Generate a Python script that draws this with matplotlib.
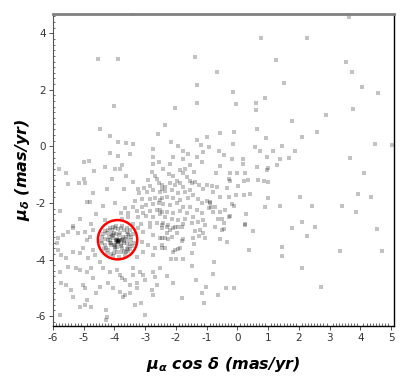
import numpy as np
import matplotlib as mpl
import matplotlib.pyplot as plt
from matplotlib.patches import Ellipse
from matplotlib.ticker import MultipleLocator

plt.switch_backend('Agg')

mpl.rcParams['axes.unicode_minus'] = False
mpl.rcParams['mathtext.fontset'] = 'custom'
mpl.rcParams['mathtext.it'] = 'DejaVu Sans:italic:bold'
mpl.rcParams['mathtext.rm'] = 'DejaVu Sans:bold'

# proper motions (mas/yr)
# sparse stars above the main field
upper_pts = [(-3.39, 4.68), (-4.52, 3.08), (-3.87, 3.08), (-1.38, 3.15), (-0.66, 2.64),
             (-1.30, 2.18), (-1.30, 1.52), (-4.01, 1.43), (-2.03, 1.35), (-2.35, 0.75),
             (-4.46, 0.60), (-0.16, 1.91), (-0.05, 1.49), (0.76, 3.82), (2.26, 3.82),
             (1.26, 3.06), (3.62, 4.58), (3.52, 2.97), (3.73, 2.64), (1.52, 2.24),
             (0.91, 1.72), (0.62, 1.52), (0.62, 1.29), (1.78, 0.89), (2.87, 1.10),
             (4.05, 2.09), (4.59, 1.90), (3.75, 1.31), (0.65, 0.60), (-2.60, 0.43)]

# sparse stars on the right
right_pts = [(2.59, 0.52), (2.10, 0.32), (1.16, -0.15), (1.45, 0.02), (1.88, -0.15),
             (1.68, -0.40), (1.39, -0.46), (3.65, -0.42), (1.30, -0.65), (4.46, 0.08),
             (5.03, 0.05), (4.11, -0.93), (4.36, -1.78), (3.91, -1.68), (2.04, -1.80),
             (3.87, -2.32), (2.43, -2.11), (3.40, -2.11), (1.39, -2.10), (2.10, -2.66),
             (1.79, -2.87), (2.26, -3.18), (2.54, -2.84), (4.54, -2.91), (4.69, -3.69),
             (3.34, -3.70), (1.45, -3.57), (1.45, -3.88), (2.10, -4.30), (2.73, -4.96),
             (0.94, 0.28), (1.01, -0.75)]

# field stars, upper left
field_ul = [(-4.13, 0.38), (-3.90, 0.14), (-3.61, 0.13), (-3.41, 0.08), (-2.76, -0.09),
            (-4.13, -0.22), (-3.90, -0.33), (-3.48, -0.27), (-2.74, -0.39), (-4.98, -0.56),
            (-4.84, -0.53), (-4.32, -0.74), (-3.74, -0.65), (-2.74, -0.63), (-2.55, -0.56),
            (-5.82, -0.80), (-5.57, -0.93), (-4.65, -0.86), (-3.99, -0.80), (-3.83, -0.80),
            (-2.78, -0.89), (-3.63, -1.04), (-4.99, -1.15), (-4.08, -1.15), (-2.67, -1.05),
            (-2.91, -1.19), (-2.63, -1.15), (-5.51, -1.33), (-5.16, -1.31), (-4.96, -1.28),
            (-3.39, -1.27), (-2.54, -1.31), (-4.23, -1.51), (-3.70, -1.52), (-3.25, -1.52),
            (-3.03, -1.48), (-2.85, -1.40), (-2.74, -1.55), (-4.70, -1.64), (-3.20, -1.66),
            (-2.93, -1.60), (-2.47, -1.52), (-4.89, -1.96), (-4.80, -1.98), (-3.99, -1.99),
            (-3.34, -1.92), (-3.12, -1.87), (-2.85, -1.87), (-2.68, -1.84), (-2.52, -1.90),
            (-4.37, -2.11), (-3.67, -2.17), (-3.39, -2.13), (-3.12, -2.16), (-2.96, -2.09),
            (-2.74, -2.04), (-2.54, -2.01), (-5.76, -2.27), (-4.59, -2.40), (-3.79, -2.37),
            (-3.55, -2.34), (-3.28, -2.30), (-3.07, -2.34), (-2.85, -2.29), (-2.63, -2.25),
            (-2.47, -2.31), (-5.13, -2.55), (-4.32, -2.60), (-3.77, -2.55), (-3.55, -2.51),
            (-3.25, -2.51), (-2.96, -2.45), (-2.74, -2.51), (-2.52, -2.40), (-5.35, -2.82),
            (-4.78, -2.76), (-4.04, -2.84), (-3.39, -2.75), (-3.15, -2.75), (-2.85, -2.72),
            (-2.63, -2.70), (-2.47, -2.78)]

# field stars, upper centre
field_uc = [(-0.56, 0.46), (-0.11, 0.52), (-1.32, 0.23), (-1.00, 0.32), (-2.16, 0.14),
            (-1.92, 0.03), (-1.18, 0.05), (-0.91, -0.03), (-0.15, 0.08), (0.58, -0.03),
            (0.74, -0.15), (-1.76, -0.15), (-1.61, -0.27), (-1.11, -0.21), (-0.59, -0.15),
            (-0.45, -0.29), (-2.09, -0.36), (-1.78, -0.46), (-1.32, -0.39), (-0.18, -0.45),
            (0.18, -0.43), (0.96, -0.36), (-1.54, -0.66), (-2.19, -0.62), (-1.16, -0.56),
            (0.19, -0.62), (0.63, -0.72), (-0.56, -0.69), (-2.41, -0.81), (-1.87, -0.84),
            (-1.69, -0.81), (-1.41, -0.92), (-0.69, -0.93), (-0.24, -0.93), (-0.02, -0.93),
            (0.25, -0.95), (0.96, -0.84), (-2.22, -0.99), (-2.09, -1.05), (-1.78, -0.95),
            (-1.65, -1.09), (-1.98, -1.21), (-1.54, -1.21), (-1.38, -1.25), (-0.24, -1.21),
            (0.20, -1.21), (0.33, -1.19), (0.66, -1.19), (0.85, -1.22), (1.01, -1.27),
            (-0.29, -1.17), (-2.47, -1.37), (-2.36, -1.42), (-2.19, -1.31), (-2.03, -1.37),
            (-1.87, -1.31), (-1.76, -1.45), (-1.49, -1.31), (-1.24, -1.37), (-1.00, -1.37),
            (-0.84, -1.40), (-0.67, -1.42), (-0.35, -1.46), (0.03, -1.40), (-2.52, -1.60),
            (-2.36, -1.57), (-2.14, -1.54), (-1.92, -1.64), (-1.70, -1.60), (-1.54, -1.54),
            (-1.43, -1.72), (-1.11, -1.52), (-0.78, -1.60), (-0.56, -1.78), (-0.29, -1.78),
            (-0.04, -1.72), (0.20, -1.72), (0.41, -1.68), (1.01, -1.84), (-2.47, -1.84),
            (-2.30, -1.78), (-2.09, -1.84), (-1.87, -1.90), (-1.60, -1.84), (-1.27, -1.87),
            (-1.00, -1.92), (-0.89, -2.01), (-1.16, -1.99), (-2.41, -2.04), (-2.19, -2.07),
            (-1.98, -2.01), (-1.76, -2.13), (-1.54, -2.16), (-1.32, -2.25), (-0.94, -2.19),
            (-0.73, -2.13), (-0.40, -2.25), (-0.56, -2.31), (-2.52, -2.25), (-2.30, -2.31),
            (-2.09, -2.34), (-1.87, -2.29), (-1.65, -2.37), (-1.16, -2.37), (-0.78, -2.31),
            (-0.24, -2.46), (0.28, -2.39), (0.90, -2.16), (-2.36, -2.51), (-2.14, -2.55),
            (-1.92, -2.60), (-1.70, -2.58), (-1.43, -2.51), (-1.11, -2.60), (-0.62, -2.58),
            (-0.51, -2.55), (-0.29, -2.51), (-2.41, -2.72), (-2.25, -2.78), (-2.03, -2.84),
            (-1.76, -2.75), (-1.49, -2.70), (-1.27, -2.66), (-1.05, -2.78), (-0.73, -2.84),
            (-0.45, -2.72), (0.25, -2.75), (-0.45, -2.93), (-0.88, -1.95), (-0.87, -2.15),
            (-0.18, -2.05), (-0.11, -2.10), (0.26, -2.77)]

# field stars, lower left
field_ll = [(-5.84, -3.25), (-5.67, -3.13), (-5.51, -3.02), (-5.87, -3.43), (-5.35, -2.90),
            (-5.18, -3.07), (-4.97, -3.02), (-4.91, -3.31), (-4.80, -3.19), (-4.70, -2.96),
            (-3.23, -2.90), (-3.07, -3.02), (-2.85, -2.84), (-2.74, -3.13), (-2.52, -3.25),
            (-3.12, -3.37), (-2.90, -3.49), (-2.68, -3.61), (-2.47, -3.49), (-3.07, -3.72),
            (-2.74, -3.84), (-3.28, -3.90), (-4.86, -3.96), (-4.70, -3.66), (-4.64, -3.84),
            (-4.48, -4.08), (-5.02, -3.61), (-5.13, -3.78), (-5.35, -3.72), (-5.57, -3.96),
            (-5.73, -3.84), (-5.84, -3.66), (-5.78, -4.43), (-5.51, -4.25), (-5.24, -4.31),
            (-5.13, -4.37), (-4.91, -4.43), (-4.75, -4.31), (-4.37, -4.31), (-4.15, -4.43),
            (-3.93, -4.37), (-3.83, -4.55), (-3.77, -4.67), (-3.66, -4.73), (-3.39, -4.31),
            (-3.17, -4.43), (-3.07, -4.55), (-2.74, -4.43), (-2.68, -4.61), (-2.52, -4.31),
            (-3.39, -4.55), (-3.28, -4.84), (-3.50, -4.90), (-3.01, -4.73), (-5.73, -4.84),
            (-5.57, -4.90), (-5.40, -5.08), (-5.35, -5.32), (-5.02, -4.90), (-4.97, -5.02),
            (-4.70, -4.67), (-4.48, -4.96), (-4.21, -4.84), (-4.04, -5.02), (-3.83, -5.14),
            (-3.66, -5.26), (-3.28, -5.02), (-2.79, -5.08), (-2.74, -5.26), (-2.63, -4.90),
            (-4.59, -5.20), (-4.91, -5.43), (-5.13, -5.67), (-4.97, -5.61), (-4.75, -5.67),
            (-5.78, -5.96), (-4.26, -5.79), (-4.24, -6.02), (-3.72, -5.32), (-3.34, -5.61),
            (-3.15, -5.55), (-3.01, -5.96), (-4.26, -6.14), (-3.50, -5.20)]

# field stars, lower centre
field_lc = [(-2.47, -2.90), (-2.30, -2.84), (-2.19, -2.96), (-2.09, -2.87), (-1.92, -2.84),
            (-1.81, -2.84), (-2.30, -3.07), (-2.14, -3.19), (-2.36, -3.25), (-2.25, -3.28),
            (-2.47, -3.25), (-1.98, -3.07), (-1.76, -3.28), (-1.81, -3.35), (-1.43, -3.25),
            (-1.38, -2.99), (-1.22, -2.96), (-1.11, -3.07), (-1.05, -3.23), (-1.24, -3.16),
            (-0.56, -3.28), (-0.51, -2.96), (-0.35, -3.37), (0.52, -2.99), (0.39, -3.66),
            (-2.47, -3.58), (-2.36, -3.61), (-2.03, -3.66), (-1.92, -3.63), (-1.87, -3.61),
            (-2.09, -3.75), (-2.17, -3.99), (-2.00, -3.98), (-1.76, -3.99), (-1.49, -3.78),
            (-1.41, -3.46), (-1.49, -4.22), (-0.76, -4.08), (-2.30, -4.57), (-2.11, -4.82),
            (-1.36, -4.73), (-1.02, -4.96), (-0.78, -4.51), (-0.36, -5.00), (-0.11, -5.00),
            (-1.16, -5.20), (-0.63, -5.26), (-1.80, -5.37), (-1.09, -5.55)]

# cluster members inside the red circle
cluster_pts = [(-3.90, -3.33), (-3.88, -3.35), (-3.92, -3.31), (-3.86, -3.30), (-3.94, -3.36),
               (-3.89, -3.38), (-3.91, -3.28), (-3.85, -3.34), (-3.95, -3.32), (-3.87, -3.37),
               (-3.93, -3.40), (-3.83, -3.31),
               (-3.75, -3.30), (-3.70, -3.40), (-3.72, -3.22), (-4.05, -3.25), (-4.10, -3.40),
               (-4.08, -3.18), (-3.95, -3.10), (-3.85, -3.12), (-4.02, -3.50),
               (-3.92, -3.55), (-3.80, -3.52), (-4.15, -3.32), (-4.12, -3.48),
               (-3.62, -3.20), (-4.00, -3.08), (-3.74, -3.58),
               (-4.18, -3.22), (-3.60, -3.42), (-3.98, -3.62),
               (-3.82, -3.05), (-4.10, -3.10), (-4.22, -3.30), (-3.58, -3.28),
               (-3.97, -3.47), (-3.73, -3.27), (-4.14, -3.42), (-3.78, -3.44),
               (-4.04, -3.15), (-3.69, -3.36), (-3.99, -3.54),
               (-3.45, -3.30), (-3.40, -3.10), (-3.42, -3.52), (-3.50, -2.95), (-3.55, -3.70),
               (-3.60, -2.88), (-3.75, -2.80), (-3.95, -2.82), (-4.15, -2.88), (-4.30, -3.00),
               (-4.40, -3.20), (-4.42, -3.42), (-4.35, -3.62), (-4.25, -3.78), (-4.05, -3.88),
               (-3.85, -3.90), (-3.65, -3.85), (-3.48, -3.62), (-3.52, -3.15), (-3.58, -3.02),
               (-3.68, -2.95), (-3.88, -2.92), (-4.08, -2.96), (-4.25, -3.08), (-4.32, -3.28),
               (-4.30, -3.50), (-4.20, -3.68), (-4.00, -3.78), (-3.78, -3.75), (-3.60, -3.62),
               (-3.50, -3.45), (-3.47, -3.20), (-3.62, -3.75), (-4.12, -3.80), (-4.38, -3.10),
               (-3.56, -3.54), (-4.45, -3.35), (-3.70, -3.70), (-3.92, -3.74), (-4.22, -2.95),
               (-3.80, -2.88), (-3.38, -3.40), (-4.28, -3.58), (-3.55, -3.10), (-3.98, -2.90)]

# circle marking the cluster
circle_center = (-3.90, -3.30)

all_pts = np.array(upper_pts + right_pts + field_ul + field_uc + field_ll + field_lc + cluster_pts)

fig = plt.figure(figsize=(4.09, 3.82), dpi=100)
ax = fig.add_axes([0.1296, 0.1466, 0.8334, 0.8168])

ax.scatter(all_pts[:, 0], all_pts[:, 1], s=4.8, marker='s', c='k', alpha=0.24,
           linewidths=0, zorder=2)

ax.add_patch(Ellipse(circle_center, 1.28, 1.39, fill=False, ec='red', lw=1.8, zorder=3))

ax.set_xlim(-6, 5.09)
ax.set_ylim(-6.35, 4.68)

ax.xaxis.set_major_locator(MultipleLocator(1))
ax.xaxis.set_minor_locator(MultipleLocator(0.1))
ax.yaxis.set_major_locator(MultipleLocator(2))
ax.yaxis.set_minor_locator(MultipleLocator(0.2))
ax.tick_params(which='major', length=3, width=0.6, labelsize=7.5, colors='#333333', pad=2)
ax.tick_params(which='minor', length=1.5, width=0.5, direction='in', colors='#333333')
ax.tick_params(axis='x', which='minor', length=2, direction='in')

ax.spines['top'].set_color('#808080')
ax.spines['top'].set_linewidth(2.0)
ax.spines['right'].set_color('black')
ax.spines['right'].set_linewidth(1.0)
ax.spines['left'].set_color('#555555')
ax.spines['left'].set_linewidth(0.8)
ax.spines['bottom'].set_color('black')
ax.spines['bottom'].set_linewidth(1.0)

ax.set_xlabel(r'$\mu_\alpha$ cos $\delta$ (mas/yr)', fontsize=11.5, fontweight='bold',
              style='italic', labelpad=9)
ax.set_ylabel(r'$\mu_\delta$ (mas/yr)', fontsize=11.5, fontweight='bold',
              style='italic', labelpad=3)

fig.savefig('out.png', dpi=100)
